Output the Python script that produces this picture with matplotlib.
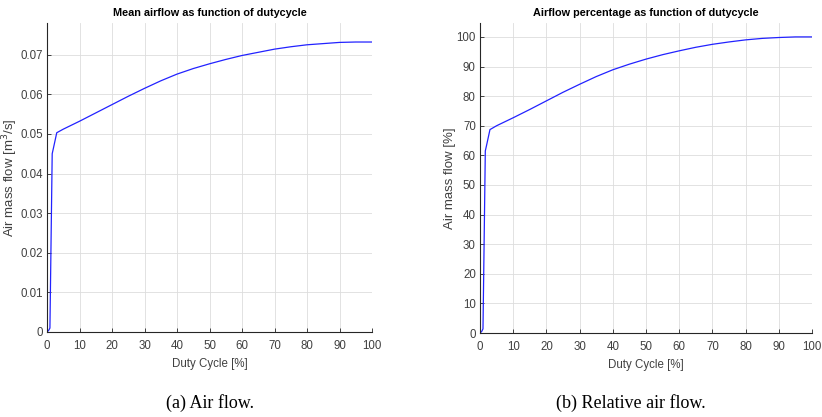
import matplotlib
matplotlib.use("Agg")
import matplotlib.pyplot as plt

duty = [0, 0.5, 0.9, 1.6, 2.0, 3.0, 5, 10, 15, 20, 25, 30, 35, 40, 45, 50, 55, 60, 65, 70, 75, 80, 85, 90, 95, 100]
flow = [0, 0.0004, 0.001, 0.045, 0.0465, 0.0503, 0.0512, 0.0532, 0.0553, 0.0574, 0.0595, 0.0615, 0.0634,
        0.0651, 0.0665, 0.0677, 0.0688, 0.0698, 0.0706, 0.0714, 0.0720, 0.0725, 0.0728, 0.0731, 0.0732, 0.0732]
percent = [0, 0.5, 1.4, 61.5, 63.5, 68.7, 70.0, 72.7, 75.5, 78.4, 81.3, 84.0, 86.6,
           88.9, 90.8, 92.5, 94.0, 95.3, 96.5, 97.5, 98.3, 99.0, 99.5, 99.8, 100.0, 100.0]

xticks = [0, 10, 20, 30, 40, 50, 60, 70, 80, 90, 100]
yticks_a = [0, 0.01, 0.02, 0.03, 0.04, 0.05, 0.06, 0.07]
ytick_labels_a = ["0", "0.01", "0.02", "0.03", "0.04", "0.05", "0.06", "0.07"]
yticks_b = [0, 10, 20, 30, 40, 50, 60, 70, 80, 90, 100]

plt.rcParams['font.family'] = ['Liberation Sans', 'DejaVu Sans']

W, H = 822, 417
fig = plt.figure(figsize=(W / 100, H / 100), dpi=100)

def style(ax):
    for s in ['top', 'right']:
        ax.spines[s].set_visible(False)
    for s in ['left', 'bottom']:
        ax.spines[s].set_color('#262626')
        ax.spines[s].set_linewidth(0.8)
    ax.tick_params(direction='in', length=3, width=0.6, colors='#262626',
                   labelcolor='#404040', labelsize=8.3)
    ax.tick_params(axis='x', pad=5.5)
    ax.tick_params(axis='y', pad=3)
    ax.grid(True, color='#dddddd', linewidth=0.6)
    ax.set_axisbelow(True)

ax1 = fig.add_axes([47 / W, (H - 332) / H, (372 - 47) / W, (332 - 23) / H])
ax1.plot(duty, flow, color='#2222ff', linewidth=0.9)
ax1.set_xlim(0, 100)
ax1.set_ylim(0, 0.078)
ax1.set_xticks(xticks)
ax1.set_yticks(yticks_a)
ax1.set_yticklabels(ytick_labels_a)
style(ax1)
ax1.set_title("Mean airflow as function of dutycycle", fontsize=7.8, fontweight='bold', pad=5)
ax1.set_xlabel("Duty Cycle [%]", fontsize=8.3, color='#404040', labelpad=4.5)
ax1.set_ylabel("Air mass flow [m$^3$/s]", fontsize=9.5, color='#404040')
ax1.yaxis.set_label_coords(-(47 - 20) / (372 - 47), 0.5)

ax2 = fig.add_axes([480 / W, (H - 333) / H, (812 - 480) / W, (333 - 23) / H])
ax2.plot(duty, percent, color='#2222ff', linewidth=0.9)
ax2.set_xlim(0, 100)
ax2.set_ylim(0, 104.7)
ax2.set_xticks(xticks)
ax2.set_yticks(yticks_b)
style(ax2)
ax2.set_title("Airflow percentage as function of dutycycle", fontsize=7.8, fontweight='bold', pad=5)
ax2.set_xlabel("Duty Cycle [%]", fontsize=8.3, color='#404040', labelpad=4.5)
ax2.set_ylabel("Air mass flow [%]", fontsize=9.5, color='#404040')
ax2.yaxis.set_label_coords(-(480 - 456) / (812 - 480), 0.5)

fig.text(210 / W, 1 - 403 / H, "(a) Air flow.", ha='center', va='center',
         fontsize=13, family=['Liberation Serif'])
fig.text(631 / W, 1 - 403 / H, "(b) Relative air flow.", ha='center', va='center',
         fontsize=13, family=['Liberation Serif'])

fig.savefig("out.png", dpi=100)
